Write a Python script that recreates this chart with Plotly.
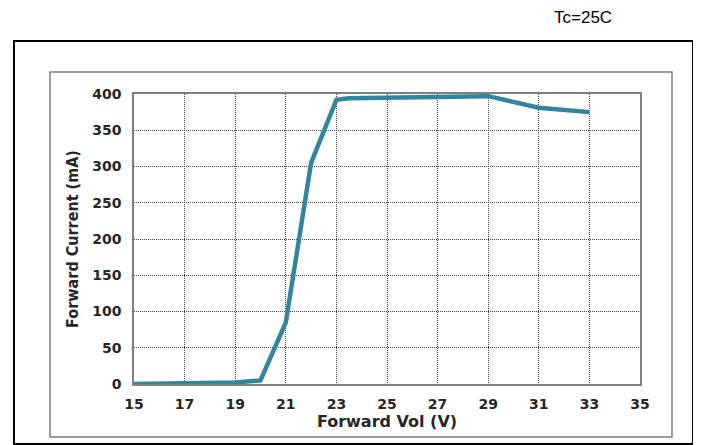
import plotly.graph_objects as go

# Data
forward_voltage_v = [15, 17, 19, 20, 21, 22, 23, 23.5, 25, 27, 29, 31, 33]
forward_current_ma = [0, 1, 2, 5, 85, 305, 392, 394, 395, 396, 397, 381, 375]
x_ticks = [15, 17, 19, 21, 23, 25, 27, 29, 31, 33, 35]
y_ticks = [0, 50, 100, 150, 200, 250, 300, 350, 400]

# The page body adds an 8 px offset, so the figure is drawn 8 px smaller and shifted
OFF = 8
W, H = 701 - OFF, 445 - OFF
PL, PR, PT, PB = 134 - OFF, 640 - OFF, 94 - OFF, 384 - OFF  # plot area in figure pixels


def px(xp):
    return (xp - OFF - PL) / (PR - PL)


def py(yp):
    return (PB - (yp - OFF)) / (PB - PT)


fig = go.Figure()
fig.add_trace(go.Scatter(
    x=forward_voltage_v, y=forward_current_ma, mode="lines",
    line=dict(color="#31859C", width=4.5), showlegend=False,
))

tick_font = dict(family="DejaVu Sans", size=14, color="#262626", weight="bold")

fig.update_layout(
    width=W, height=H,
    margin=dict(l=PL, r=W - PR, t=PT, b=H - PB, pad=0),
    paper_bgcolor="white", plot_bgcolor="white",
    xaxis=dict(
        range=[15, 35], tickvals=x_ticks, ticktext=[str(v) for v in x_ticks],
        showgrid=True, gridcolor="#444444", griddash="1px,1px", gridwidth=1,
        showline=True, linecolor="#808080", linewidth=1.5, mirror=True,
        ticks="", tickfont=tick_font, zeroline=False, ticklabelstandoff=6,
        title=dict(text="Forward Vol (V)", font=dict(family="DejaVu Sans", size=16,
                   color="#262626", weight="bold"), standoff=0),
    ),
    yaxis=dict(
        range=[0, 400], tickvals=y_ticks,
        showgrid=True, gridcolor="#444444", griddash="1px,1px", gridwidth=1,
        showline=True, linecolor="#808080", linewidth=1.5, mirror=True,
        ticks="", tickfont=tick_font, zeroline=False, ticklabelstandoff=8,
        title=dict(text="Forward Current (mA)", font=dict(family="DejaVu Sans Condensed", size=16,
                   color="#262626", weight="bold"), standoff=10),
    ),
    shapes=[
        dict(type="rect", xref="paper", yref="paper",
             x0=px(14), x1=px(693), y0=py(444), y1=py(41),
             line=dict(color="black", width=2), layer="below"),
        dict(type="rect", xref="paper", yref="paper",
             x0=px(50), x1=px(672), y0=py(437), y1=py(72),
             line=dict(color="#7f7f7f", width=1.5), layer="below"),
    ],
    annotations=[
        dict(text="Tc=25C", xref="paper", yref="paper", x=px(583), y=py(18),
             xanchor="center", yanchor="middle", showarrow=False,
             font=dict(family="Liberation Sans", size=17, color="black")),
    ],
)

fig.write_html("out.html")
